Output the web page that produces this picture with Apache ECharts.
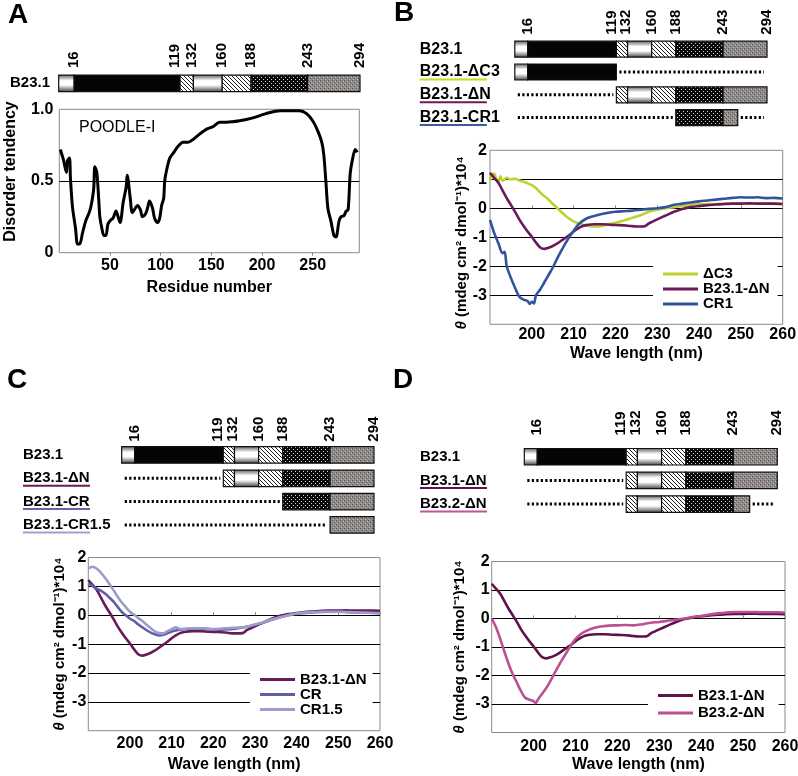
<!DOCTYPE html>
<html><head><meta charset="utf-8">
<script src="https://cdn.jsdelivr.net/npm/echarts@6/dist/echarts.min.js"></script>
<style>html,body{margin:0;padding:0;background:#fff}#c{width:798px;height:776px}</style>
</head><body><div id="c"></div>
<script>
// ---------------- DATA ----------------
const domainBoundaries = [1, 16, 119, 132, 160, 188, 243, 294];
const domainKinds = ['cap', 'black', 'hatch', 'cap', 'hatch', 'darkdot', 'greydot'];
const boundaryLabels = [16, 119, 132, 160, 188, 243, 294];

const constructsA = [{name: 'B23.1', from: 1, to: 294}];
const constructsB = [
  {name: 'B23.1', from: 1, to: 294},
  {name: 'B23.1-ΔC3', from: 1, to: 119},
  {name: 'B23.1-ΔN', from: 119, to: 294},
  {name: 'B23.1-CR1', from: 188, to: 260}
];
const constructsC = [
  {name: 'B23.1', from: 1, to: 294},
  {name: 'B23.1-ΔN', from: 119, to: 294},
  {name: 'B23.1-CR', from: 188, to: 294},
  {name: 'B23.1-CR1.5', from: 243, to: 294}
];
const constructsD = [
  {name: 'B23.1', from: 1, to: 294},
  {name: 'B23.1-ΔN', from: 119, to: 294},
  {name: 'B23.2-ΔN', from: 119, to: 262}
];

const poodleResidue = [1,4,7,8,10,11,13,16,18,20,23,26,30,32,34,35,37,39,40,42,44,46,48,51,53,56,58,60,63,66,67,70,72,75,77,80,82,85,87,89,92,94,97,99,101,103,104,106,109,113,117,122,127,132,139,145,152,158,165,178,191,204,218,228,237,244,250,255,259,261,263,265,268,271,273,276,278,281,283,285,287,289,292,294];
const poodleScore = [0.72,0.65,0.56,0.64,0.66,0.52,0.32,0.17,0.06,0.06,0.14,0.22,0.29,0.35,0.45,0.60,0.56,0.36,0.25,0.17,0.12,0.12,0.20,0.23,0.24,0.29,0.25,0.21,0.35,0.46,0.54,0.38,0.28,0.31,0.33,0.30,0.25,0.27,0.31,0.36,0.31,0.24,0.21,0.24,0.33,0.38,0.50,0.58,0.66,0.70,0.74,0.77,0.77,0.79,0.83,0.86,0.88,0.91,0.91,0.92,0.94,0.97,0.99,0.99,0.99,0.97,0.92,0.85,0.77,0.68,0.50,0.31,0.22,0.12,0.11,0.22,0.25,0.26,0.29,0.30,0.55,0.64,0.72,0.70];

// CD spectra: wavelength (nm) and theta (x10^4)
const dN_nm  = [190,191,192,193,194,195,196,197,198,199,200,201,202,203,204,205,206,207,208,209,210,211,212,213,215,217,219,221,223,225,227,228,229,230,232,234,236,238,240,242,244,246,248,250,252,254,256,258,260];
const dN_val = [1.22,1.05,0.88,0.62,0.35,0.12,-0.12,-0.38,-0.60,-0.80,-0.98,-1.18,-1.35,-1.40,-1.36,-1.30,-1.22,-1.12,-1.02,-0.92,-0.80,-0.70,-0.62,-0.58,-0.55,-0.55,-0.57,-0.58,-0.60,-0.63,-0.62,-0.52,-0.45,-0.38,-0.25,-0.12,-0.02,0.04,0.08,0.11,0.13,0.15,0.16,0.16,0.17,0.16,0.16,0.16,0.15];

const dC3_nm  = [190,190.5,191,191.5,192,192.5,193,194,195,196,197,198,199,200,201,202,203,204,205,206,207,208,209,210,211,212,213,214,215,216,217,218,219,220,222,224,226,228,230,232,234,236,238,240,244,248,252,256,260];
const dC3_val = [0.95,1.15,1.20,1.00,0.90,1.10,0.95,1.05,1.00,1.02,0.96,0.92,0.86,0.80,0.70,0.55,0.42,0.30,0.15,0.02,-0.12,-0.25,-0.36,-0.45,-0.51,-0.56,-0.60,-0.62,-0.63,-0.63,-0.60,-0.57,-0.53,-0.50,-0.42,-0.33,-0.24,-0.12,-0.05,0.00,0.04,0.08,0.11,0.14,0.15,0.16,0.16,0.16,0.15];

const cr1_nm  = [190,191,192,193,193.5,194,195,196,197,198,199,199.5,200,200.5,201,202,203,204,205,206,207,208,209,210,211,212,213,214,216,218,220,222,224,226,228,230,232,234,236,238,240,242,244,246,248,250,252,254,256,258,260];
const cr1_val = [-0.40,-0.85,-1.20,-1.55,-1.50,-2.00,-2.40,-2.75,-3.05,-3.15,-3.20,-3.30,-3.22,-3.28,-3.00,-2.80,-2.55,-2.30,-2.05,-1.75,-1.48,-1.22,-0.98,-0.78,-0.58,-0.45,-0.36,-0.30,-0.22,-0.16,-0.12,-0.10,-0.08,-0.05,-0.02,0.00,0.04,0.12,0.16,0.20,0.24,0.27,0.30,0.33,0.36,0.38,0.37,0.38,0.35,0.36,0.34];

const cr_nm  = [190,191,192,193,194,195,196,197,198,199,200,201,202,203,204,205,206,207,208,209,210,212,214,216,218,220,222,224,226,228,230,232,234,236,238,240,243,246,250,254,258,260];
const cr_val = [1.10,1.02,0.92,0.85,0.75,0.62,0.48,0.30,0.12,0.00,-0.12,-0.20,-0.32,-0.42,-0.52,-0.60,-0.66,-0.70,-0.68,-0.62,-0.56,-0.50,-0.47,-0.46,-0.47,-0.49,-0.50,-0.48,-0.45,-0.40,-0.33,-0.25,-0.16,-0.07,0.00,0.05,0.09,0.11,0.12,0.10,0.09,0.08];

const cr15_nm  = [190,191,192,193,194,195,196,197,198,199,200,201,202,203,204,205,206,207,208,209,210,211,212,214,216,218,220,222,224,226,228,230,232,234,236,238,240,243,246,250,254,258,260];
const cr15_val = [1.62,1.68,1.62,1.48,1.30,1.10,0.88,0.65,0.45,0.28,0.12,0.02,-0.10,-0.20,-0.33,-0.45,-0.56,-0.62,-0.63,-0.55,-0.48,-0.42,-0.48,-0.46,-0.45,-0.46,-0.48,-0.46,-0.44,-0.43,-0.40,-0.32,-0.24,-0.15,-0.07,0.00,0.06,0.10,0.12,0.12,0.10,0.08,0.06];

const b232_nm  = [190,191,192,193,194,195,196,197,198,199,200,200.5,201,202,203,204,205,206,207,208,209,210,211,212,213,214,216,218,220,222,224,226,228,230,232,234,236,238,240,242,244,246,248,250,252,254,256,258,260];
const b232_val = [0.00,-0.30,-0.70,-1.15,-1.58,-1.95,-2.25,-2.55,-2.78,-2.85,-2.90,-2.97,-2.85,-2.65,-2.45,-2.20,-1.92,-1.65,-1.40,-1.16,-0.92,-0.72,-0.58,-0.48,-0.41,-0.35,-0.28,-0.25,-0.24,-0.23,-0.24,-0.20,-0.15,-0.12,-0.08,-0.04,0.00,0.05,0.09,0.14,0.18,0.21,0.23,0.23,0.23,0.22,0.22,0.22,0.21];

const wlTicks = {min: 190, max: 260, interval: 10};
const thetaTicks = {min: -4, max: 2, interval: 1};

// ---------------- STYLE ----------------
const FONT = '"Liberation Sans", Arial, Helvetica, sans-serif';
const C = {
  dC3: '#bcd22e', dN: '#6b1a58', dN_D: '#5e1249', cr1: '#30559c',
  cr: '#5d5fa6', cr15: '#9c9dcb', b232: '#bd4f95', frame: '#8a8a8a'
};
const underlineB = [null, '#c8da1e', '#6b1a58', '#3c5a9e'];
const underlineC = [null, '#6b1a58', '#6466ad', '#9fa0cf'];
const underlineD = [null, '#5e1249', '#c0559a'];
const labelNudge = {119: -5, 132: -2};

function bold(size) { return {fontFamily: FONT, fontWeight: 'bold', fontSize: size, color: '#000'}; }
function pattern(w, h, draw) {
  const c = document.createElement('canvas'); c.width = w; c.height = h;
  draw(c.getContext('2d')); return {image: c, repeat: 'repeat'};
}
const fills = {
  cap: new echarts.graphic.LinearGradient(0, 0, 0, 1, [
    {offset: 0, color: '#555'}, {offset: 0.35, color: '#fff'},
    {offset: 0.6, color: '#fff'}, {offset: 1, color: '#3a3a3a'}]),
  black: '#050505',
  hatch: pattern(4, 4, g => { g.fillStyle = '#fff'; g.fillRect(0,0,4,4); g.fillStyle = '#222'; for (let i=0;i<4;i++) g.fillRect(i,i,1,1); }),
  darkdot: pattern(4, 4, g => { g.fillStyle = '#0a0a0a'; g.fillRect(0,0,4,4); g.fillStyle = '#cfcfcf'; g.fillRect(1,1,1,1); g.fillRect(3,3,1,1); }),
  greydot: pattern(4, 4, g => { g.fillStyle = '#8f8987'; g.fillRect(0,0,4,4); g.fillStyle = '#555'; g.fillRect(0,0,1,1); g.fillRect(2,2,1,1); g.fillStyle = '#bdb8b6'; g.fillRect(1,3,1,1); g.fillRect(3,1,1,1); })
};
const KIND_INDEX = {cap: 0, black: 1, hatch: 2, darkdot: 3, greydot: 4, dots: 5};
const KIND_FILL = [fills.cap, fills.black, fills.hatch, fills.darkdot, fills.greydot];

function segmentsFor(constructs) {
  const first = domainBoundaries[0], last = domainBoundaries[domainBoundaries.length - 1];
  const out = [];
  constructs.forEach((c, row) => {
    if (c.from > first) out.push([first, c.from, row, KIND_INDEX.dots]);
    for (let i = 0; i < domainKinds.length; i++) {
      const s = Math.max(domainBoundaries[i], c.from), e = Math.min(domainBoundaries[i + 1], c.to);
      if (e > s) out.push([s, e, row, KIND_INDEX[domainKinds[i]]]);
    }
    if (c.to < last) out.push([c.to, last, row, KIND_INDEX.dots]);
  });
  return out;
}

function domainSeries(constructs, axisIdx, barH) {
  return {
    type: 'custom', xAxisIndex: axisIdx, yAxisIndex: axisIdx, clip: false, silent: true,
    encode: {x: [0, 1], y: 2},
    data: segmentsFor(constructs),
    renderItem: (params, api) => {
      const s = api.value(0), e = api.value(1), row = api.value(2), k = api.value(3);
      const a = api.coord([s, row]), b = api.coord([e, row]);
      if (k === KIND_INDEX.dots) {
        return {type: 'line', shape: {x1: a[0] + 3, y1: a[1], x2: b[0] - 3, y2: b[1]},
          style: {stroke: '#000', lineWidth: 3, lineDash: [2.2, 2.3]}};
      }
      return {type: 'rect', shape: {x: a[0], y: a[1] - barH / 2, width: b[0] - a[0], height: barH},
        style: {fill: KIND_FILL[k], stroke: '#111', lineWidth: 1.2}};
    }
  };
}
function numberLabelSeries(axisIdx, barH, gap) {
  return {
    type: 'custom', xAxisIndex: axisIdx, yAxisIndex: axisIdx, clip: false, silent: true,
    encode: {x: 0, y: 1},
    data: boundaryLabels.map(v => [v, 0]),
    renderItem: (params, api) => {
      const v = api.value(0);
      const p = api.coord([v, 0]);
      return {type: 'text', x: p[0] + (labelNudge[v] || 0), y: p[1] - barH / 2 - gap, rotation: Math.PI / 2,
        style: {text: String(v), x: 0, y: 0, font: 'bold 15px ' + FONT, fill: '#000',
          align: 'left', verticalAlign: 'middle', textAlign: 'left', textVerticalAlign: 'middle'}};
    }
  };
}

function hiddenTopAxis(grid) {
  return {gridIndex: grid, type: 'value', min: domainBoundaries[0], max: domainBoundaries[domainBoundaries.length - 1],
    position: 'top', axisLine: {show: false}, axisTick: {show: false}, splitLine: {show: false}, axisLabel: {show: false}};
}
function rowAxis(grid, constructs, underline, margin, fs) {
  const rich = {t: {...bold(fs), lineHeight: 12}};
  constructs.forEach((c, i) => {
    rich['u' + i] = {width: 67, height: 2, lineHeight: 3, backgroundColor: (underline && underline[i]) || 'transparent'};
  });
  return {gridIndex: grid, type: 'category', inverse: true, data: constructs.map(c => c.name),
    axisLine: {show: false}, axisTick: {show: false}, splitLine: {show: false},
    axisLabel: {margin: margin, align: 'left', padding: [3, 0, 0, 0],
      formatter: (v, i) => '{t|' + v + '}\n{u' + i + '| }', rich: rich}};
}
function cdX(grid, margin, nameGap) {
  return {gridIndex: grid, type: 'value', ...wlTicks,
    axisLine: {show: false}, axisTick: {show: true, inside: true, length: 3, lineStyle: {color: C.frame}},
    splitLine: {show: false},
    axisLabel: {showMinLabel: false, margin: margin, ...bold(16)},
    name: 'Wave length (nm)', nameLocation: 'middle', nameGap: nameGap, nameTextStyle: bold(16)};
}
function cdY(grid, margin, nameGap, pad) {
  return {gridIndex: grid, type: 'value', ...thetaTicks,
    axisLine: {show: false}, axisTick: {show: false},
    splitLine: {show: true, showMinLine: false, showMaxLine: false, lineStyle: {color: '#000', width: 1}},
    axisLabel: {showMinLabel: false, margin: margin, ...bold(16)},
    name: '{i|θ} (mdeg cm² dmol⁻¹)*10⁴', nameLocation: 'middle', nameGap: nameGap, nameRotate: 90,
    nameTextStyle: {...bold(15), padding: pad, rich: {i: {...bold(15), fontStyle: 'italic'}}}};
}
function zip(xs, ys) { return xs.map((x, i) => [x, ys[i]]); }
function cdLine(name, axis, xs, ys, color) {
  return {type: 'line', name: name, xAxisIndex: axis, yAxisIndex: axis, data: zip(xs, ys),
    showSymbol: false, symbol: 'none', smooth: 0.3, color: color, lineStyle: {color: color, width: 2.6}, z: 3};
}
const legendText = {
  B_dC3: 'ΔC3', B_dN: 'B23.1-ΔN', B_cr1: 'CR1',
  C_dN: 'B23.1-ΔN', C_cr: 'CR', C_cr15: 'CR1.5',
  D_dN: 'B23.1-ΔN', D_b232: 'B23.2-ΔN'
};
function legend(names, left, top, gap, padR) {
  return {orient: 'vertical', left: left, top: top, padding: [4, padR, 4, 10], itemGap: gap,
    itemWidth: 35, itemHeight: 3, icon: 'rect', backgroundColor: '#fff', selectedMode: false,
    data: names, formatter: n => legendText[n],
    textStyle: {...bold(15), lineHeight: 14.3}, z: 10};
}
const frameGrid = {show: true, borderColor: C.frame, borderWidth: 1, backgroundColor: 'transparent', outerBoundsMode: 'none'};

const option = {
  animation: false,
  backgroundColor: '#fff',
  grid: [
    {left: 58.7, top: 71.8, width: 301.3, height: 23, outerBoundsMode: 'none'},
    {left: 59.3, top: 109.3, width: 300, height: 143.4, ...frameGrid},
    {left: 514.8, top: 37.8, width: 252.2, height: 91.2, outerBoundsMode: 'none'},
    {left: 490, top: 150.3, width: 292.7, height: 174, ...frameGrid},
    {left: 121.7, top: 443.3, width: 252.3, height: 93.3, outerBoundsMode: 'none'},
    {left: 88.3, top: 557.5, width: 291.7, height: 173.2, ...frameGrid},
    {left: 524.3, top: 444.9, width: 253, height: 71, outerBoundsMode: 'none'},
    {left: 491.7, top: 561.5, width: 293.3, height: 171, ...frameGrid}
  ],
  xAxis: [
    hiddenTopAxis(0),
    {gridIndex: 1, type: 'value', min: 0, max: 296, interval: 50,
      axisLine: {show: false}, axisTick: {show: true, length: 3, lineStyle: {color: C.frame}}, splitLine: {show: false},
      axisLabel: {showMinLabel: false, showMaxLabel: false, margin: 5, ...bold(16)},
      name: 'Residue number', nameLocation: 'middle', nameGap: 27, nameTextStyle: bold(16)},
    hiddenTopAxis(2),
    cdX(3, 2, 21),
    hiddenTopAxis(4),
    cdX(5, 5, 26),
    hiddenTopAxis(6),
    cdX(7, 6, 24)
  ],
  yAxis: [
    rowAxis(0, constructsA, null, 48.7, 15),
    {gridIndex: 1, type: 'value', min: 0, max: 1, interval: 0.5,
      axisLine: {show: false}, axisTick: {show: false},
      splitLine: {show: true, showMinLine: false, showMaxLine: false, lineStyle: {color: '#000', width: 1}},
      axisLabel: {margin: 6, formatter: v => v === 0 ? '0' : v.toFixed(1), ...bold(16)},
      name: 'Disorder tendency', nameLocation: 'middle', nameGap: 41,
      nameTextStyle: {...bold(16), padding: [0, 0, 0, 19]}},
    rowAxis(2, constructsB, underlineB, 95, 16),
    cdY(3, 3, 17, [0, 11, 0, 0]),
    rowAxis(4, constructsC, underlineC, 98.7, 15),
    cdY(5, 2, 21, [0, 0, 0, 0]),
    rowAxis(6, constructsD, underlineD, 104.3, 15),
    cdY(7, 2, 24, [0, 0, 0, 0])
  ],
  legend: [
    legend(['B_dC3', 'B_dN', 'B_cr1'], 653, 262.5, 0, 8),
    legend(['C_dN', 'C_cr', 'C_cr15'], 250, 668, 0, 6),
    legend(['D_dN', 'D_b232'], 648, 684, 2.4, 14)
  ],
  series: [
    domainSeries(constructsA, 0, 16.5),
    numberLabelSeries(0, 16.5, 7),
    {type: 'line', xAxisIndex: 1, yAxisIndex: 1, data: zip(poodleResidue, poodleScore),
      showSymbol: false, symbol: 'none', smooth: 0.3, lineStyle: {color: '#000', width: 3}, color: '#000'},
    domainSeries(constructsB, 2, 16),
    numberLabelSeries(2, 16, 6.5),
    cdLine('B_dC3', 3, dC3_nm, dC3_val, C.dC3),
    cdLine('B_dN', 3, dN_nm, dN_val, C.dN),
    cdLine('B_cr1', 3, cr1_nm, cr1_val, C.cr1),
    domainSeries(constructsC, 4, 16.5),
    numberLabelSeries(4, 16.5, 5),
    cdLine('C_dN', 5, dN_nm, dN_val, C.dN),
    cdLine('C_cr', 5, cr_nm, cr_val, C.cr),
    cdLine('C_cr15', 5, cr15_nm, cr15_val, C.cr15),
    domainSeries(constructsD, 6, 16.5),
    numberLabelSeries(6, 16.5, 13),
    cdLine('D_dN', 7, dN_nm, dN_val, C.dN_D),
    cdLine('D_b232', 7, b232_nm, b232_val, C.b232)
  ],
  graphic: [
    {type: 'text', style: {text: 'A', x: 8, y: 15, font: 'bold 28px ' + FONT, fill: '#000', textAlign: 'left', textVerticalAlign: 'middle', align: 'left', verticalAlign: 'middle'}},
    {type: 'text', style: {text: 'B', x: 394, y: 13, font: 'bold 28px ' + FONT, fill: '#000', textAlign: 'left', textVerticalAlign: 'middle', align: 'left', verticalAlign: 'middle'}},
    {type: 'text', style: {text: 'C', x: 7, y: 380, font: 'bold 28px ' + FONT, fill: '#000', textAlign: 'left', textVerticalAlign: 'middle', align: 'left', verticalAlign: 'middle'}},
    {type: 'text', style: {text: 'D', x: 393, y: 380, font: 'bold 28px ' + FONT, fill: '#000', textAlign: 'left', textVerticalAlign: 'middle', align: 'left', verticalAlign: 'middle'}},
    {type: 'text', style: {text: 'POODLE-I', x: 79, y: 128, font: '16px ' + FONT, fill: '#000', textAlign: 'left', textVerticalAlign: 'middle', align: 'left', verticalAlign: 'middle'}}
  ]
};
const chart = echarts.init(document.getElementById('c'), null, {renderer: 'canvas'});
chart.setOption(option);
</script>
</body></html>
